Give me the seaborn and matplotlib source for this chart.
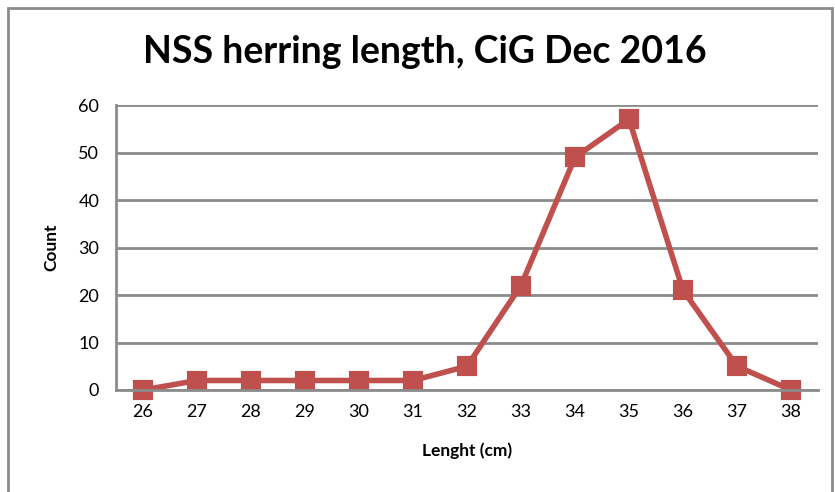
import matplotlib
matplotlib.use("Agg")
import matplotlib.pyplot as plt
import seaborn as sns
import pandas as pd
from matplotlib.patches import Rectangle

# data
lengths = ['26', '27', '28', '29', '30', '31', '32', '33', '34', '35', '36', '37', '38']
counts = [0, 2, 2, 2, 2, 2, 5, 22, 49, 57, 21, 5, 0]

df = pd.DataFrame({'length': lengths, 'count': counts})

sns.set_style('white')
plt.rcParams['font.family'] = ['Lato', 'DejaVu Sans']
plt.rcParams['text.color'] = 'black'
plt.rcParams['axes.labelcolor'] = 'black'
plt.rcParams['xtick.color'] = 'black'
plt.rcParams['ytick.color'] = 'black'

fig = plt.figure(figsize=(8.35, 4.92), dpi=100)
ax = fig.add_axes([116 / 835, 1 - 390 / 492, 702 / 835, 285 / 492])

red = '#C0504D'
grey = '#8C8C8C'

sns.pointplot(data=df, x='length', y='count', color=red, markers='s',
              linestyles='-', ax=ax, linewidth=4, markersize=12)
for art in ax.lines + ax.collections:
    art.set_clip_on(False)

ax.set_ylim(0, 60)
ax.set_yticks(range(0, 61, 10))
ax.set_xlim(-0.5, len(lengths) - 0.5)
ax.yaxis.grid(True, color=grey, linewidth=2)
ax.set_axisbelow(True)

for s in ['top', 'right']:
    ax.spines[s].set_visible(False)
for s in ['left', 'bottom']:
    ax.spines[s].set_color(grey)
    ax.spines[s].set_linewidth(2)

ax.set_xticks([i - 0.5 for i in range(len(lengths) + 1)], minor=True)
ax.tick_params(axis='x', which='major', length=0, pad=10, labelsize=13)
ax.tick_params(axis='x', which='minor', length=6, width=2, color=grey, direction='out')
ax.tick_params(axis='y', which='major', length=6, width=2, color=grey, direction='out',
               labelsize=13, pad=6, labelcolor='black')
ax.tick_params(axis='x', labelcolor='black')

ax.set_xlabel('Lenght (cm)', fontsize=12.5, fontweight='bold', labelpad=16)
ax.set_ylabel('Count', fontsize=12.5, fontweight='bold', labelpad=14)

fig.text(425 / 835, 1 - 52 / 492, 'NSS herring length, CiG Dec 2016',
         ha='center', va='center', fontsize=27, fontweight='bold', color='black')

fig.patches.append(Rectangle((8 / 835, -0.05), 824 / 835, 1.05 - 8 / 492,
                             transform=fig.transFigure, fill=False,
                             edgecolor=grey, linewidth=2))

fig.savefig('out.png', dpi=100)
